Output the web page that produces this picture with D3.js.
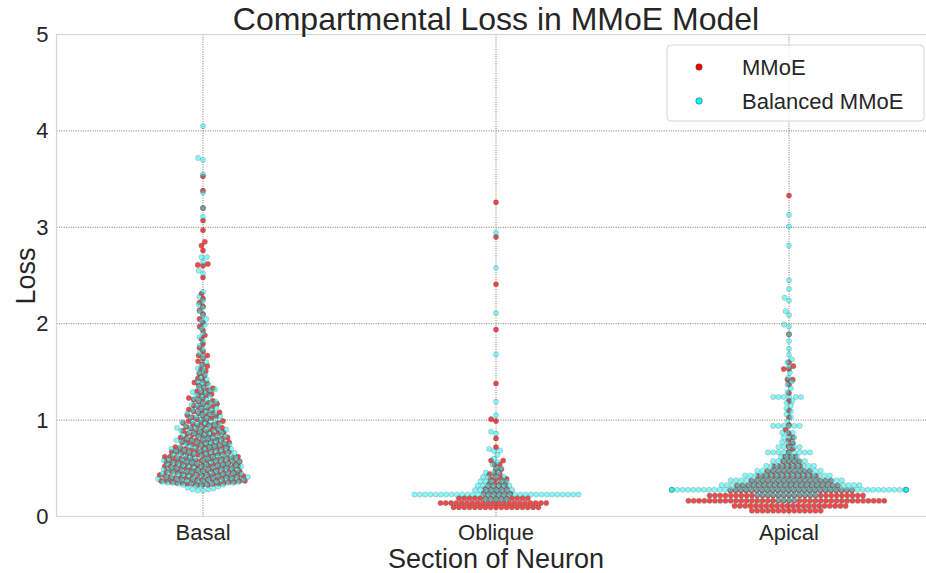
<!DOCTYPE html>
<html>
<head>
<meta charset="utf-8">
<script src="https://cdn.jsdelivr.net/npm/d3@7"></script>
<style>
  body { margin: 0; background: #fff; }
  svg { display: block; }
  text { font-family: "Liberation Sans", Arial, sans-serif; fill: #262626; }
</style>
</head>
<body>
<svg id="chart" width="926" height="573"></svg>
<script>
// ---- data -------------------------------------------------------------
const categories = ["Basal", "Oblique", "Apical"];
const seriesNames = ["MMoE", "Balanced MMoE"];
const yTicks = [0, 1, 2, 3, 4, 5];

const basalMMoE = [
  .33,.33,.33,.34,.34,.34,.34,.35,.35,.35,.36,.36,.36,.37,.37,.37,.37,.38,.38,.38,.39,.39,.39,.40,.40,.40,.40,
  .41,.41,.41,.42,.42,.42,.43,.43,.43,.43,.44,.44,.44,
  .45,.45,.45,.46,.46,.46,.47,.47,.47,.48,.48,.48,.49,.49,.49,.50,.50,.50,.51,.51,.51,.52,.52,.52,.53,.53,.53,
  .54,.54,.54,.55,.55,.55,.56,.56,.56,.57,.57,.57,.58,.58,.58,.59,.59,.59,.60,.60,.60,.61,.61,.61,
  .62,.62,.62,.63,.63,.64,.64,.64,.65,.65,.66,.66,.67,.67,.67,.68,.68,.69,.69,.69,.70,.70,.71,.71,
  .72,.72,.73,.73,.74,.74,.75,.75,.76,.76,.77,.77,.78,.78,.79,.79,.80,.80,.81,.81,
  .82,.82,.83,.83,.84,.85,.85,.86,.86,.87,.88,.88,.89,.89,.90,.91,.91,
  .92,.93,.93,.94,.95,.95,.96,.97,.97,.98,.99,.99,1.00,1.01,
  1.02,1.03,1.04,1.04,1.05,1.06,1.07,1.08,1.08,1.09,1.10,1.11,
  1.12,1.13,1.14,1.15,1.16,1.17,1.18,1.19,1.20,1.21,
  1.22,1.23,1.25,1.26,1.27,1.29,1.30,1.31,
  1.33,1.34,1.36,1.38,1.39,1.41,
  1.43,1.46,1.48,1.51,1.53,1.56,1.58,1.61,
  1.64,1.67,1.67,1.71,1.75,1.79,1.84,1.88,1.93,1.97,2.01,2.05,2.10,2.14,2.18,2.22,2.26,2.31,
  2.48,2.60,2.61,2.62,2.76,2.81,2.85,2.97,3.07,3.20,3.38,3.53
];
const basalBalanced = [
  .27,.27,.28,.28,.29,.30,.31,.32,.32,.33,.33,.33,.34,.34,.34,.35,.35,.35,.35,.36,.36,.36,.37,.37,.37,
  .38,.38,.38,.38,.39,.39,.39,.40,.40,.40,.41,.41,.41,.41,.42,.42,.42,.43,.43,.43,.44,.44,.44,.44,
  .45,.45,.45,.46,.46,.46,.47,.47,.47,.48,.48,.48,.49,.49,.49,.50,.50,.50,.51,.51,.51,.52,.52,.52,.53,.53,.53,
  .54,.54,.54,.55,.55,.55,.56,.56,.56,.57,.57,.57,.58,.58,.58,.59,.59,.59,.60,.60,.60,.61,.61,.61,
  .62,.62,.63,.63,.63,.64,.64,.65,.65,.65,.66,.66,.67,.67,.68,.68,.68,.69,.69,.70,.70,.70,.71,.71,
  .72,.72,.73,.73,.74,.74,.75,.75,.76,.76,.77,.77,.78,.78,.79,.79,.80,.80,.81,.81,
  .82,.83,.83,.84,.84,.85,.86,.86,.87,.87,.88,.89,.89,.90,.90,.91,.91,
  .92,.92,.93,.94,.94,.95,.96,.96,.97,.98,.98,.99,1.00,1.01,
  1.02,1.03,1.03,1.04,1.05,1.06,1.07,1.07,1.08,1.09,1.10,1.11,
  1.12,1.13,1.14,1.15,1.16,1.17,1.18,1.19,1.20,1.21,
  1.22,1.24,1.25,1.26,1.28,1.29,1.30,1.31,
  1.32,1.34,1.35,1.37,1.39,1.40,
  1.42,1.44,1.47,1.49,1.52,1.54,1.57,1.60,
  1.65,1.69,1.73,1.77,1.82,1.86,1.90,1.95,1.99,2.03,2.05,2.09,2.13,2.17,2.20,2.24,2.28,2.33,
  2.52,2.55,2.64,2.69,2.69,3.11,3.20,3.36,3.55,3.70,3.72,4.05
];

const obliqueMMoE = [
  .095,.095,.095,.095,.095,.095,.095,.095,.095,.095,.095,.095,.095,.095,.095,.095,.095,
  .14,.14,.14,.14,.14,.14,.14,.14,.14,.14,.14,.14,.14,.14,.14,.14,.14,.14,.14,.14,.14,
  .19,.19,.19,.19,.19,.19,.19,.19,.19,.19,.19,.19,.19,.19,
  .24,.24,.24,.24,.24,.24,
  .29,.29,.29,.29,.29,
  .34,.34,.34,.34,
  .39,.39,.39,.39,
  .44,.44,.44,
  .49,.49,
  .54,.54,.58,.58,
  .72,.81,.99,1.01,1.38,1.94,2.41,2.90,3.26
];
const obliqueBalanced = [
  .18,.18,.18,.18,.18,
  .228,.228,.228,.228,.228,.228,.228,.228,.228,.228,.228,.228,.228,.228,.228,.228,
  .228,.228,.228,.228,.228,.228,.228,.228,.228,.228,.228,.228,.228,.228,.228,.228,
  .275,.275,.275,.275,.275,.275,.275,.275,
  .32,.32,.32,.32,.32,.32,.32,
  .365,.365,.365,.365,.365,
  .41,.41,.41,.41,
  .455,.455,.455,
  .50,.50,
  .54,.56,.60,.64,.68,.685,.70,.86,.88,1.05,1.19,1.68,2.11,2.58,2.94
];

const apicalMMoE = [
  .06,.06,.06,.06,.06,.06,.06,.06,.06,.06,.06,.06,.06,.06,
  .11,.11,.11,.11,.11,.11,.11,.11,.11,.11,.11,.11,.11,.11,.11,.11,.11,.11,.11,.11,.11,.11,
  .163,.163,.163,.163,.163,.163,.163,.163,.163,.163,.163,.163,.163,.163,.163,.163,.163,.163,.163,
  .163,.163,.163,.163,.163,.163,.163,.163,.163,.163,.163,.163,.163,.163,.163,.163,.163,.163,.163,
  .218,.218,.218,.218,.218,.218,.218,.218,.218,.218,.218,.218,.218,.218,.218,
  .218,.218,.218,.218,.218,.218,.218,.218,.218,.218,.218,.218,.218,.218,.218,
  .27,.27,.27,.27,.27,.27,.27,.27,.27,.27,.27,.27,.27,.27,.27,.27,.27,.27,.27,.27,.27,.27,.27,.27,
  .32,.32,.32,.32,.32,.32,.32,.32,.32,.32,.32,.32,.32,.32,.32,.32,.32,.32,.32,.32,
  .37,.37,.37,.37,.37,.37,.37,.37,.37,.37,.37,.37,.37,.37,.37,.37,
  .42,.42,.42,.42,.42,.42,.42,.42,.42,.42,.42,.42,
  .47,.47,.47,.47,.47,.47,.47,.47,.47,
  .52,.52,.52,.52,.52,.52,
  .57,.57,.57,.57,
  .62,.62,.62,
  .67,.70,.73,.76,.79,.82,.86,.90,.95,1.03,1.10,1.20,1.28,1.37,1.42,1.42,1.53,1.53,1.56,1.60,1.89,3.33
];
const apicalBalanced = [
  .17,.17,.17,.17,
  .225,.225,.225,.225,.225,.225,.225,.225,.225,.225,.225,.225,
  .277,.277,.277,.277,.277,.277,.277,.277,.277,.277,.277,.277,.277,.277,.277,.277,.277,.277,.277,.277,.277,.277,.277,.277,.277,
  .277,.277,.277,.277,.277,.277,.277,.277,.277,.277,.277,.277,.277,.277,.277,.277,.277,.277,.277,.277,.277,.277,.277,.277,.277,
  .325,.325,.325,.325,.325,.325,.325,.325,.325,.325,.325,.325,.325,.325,.325,.325,.325,.325,.325,.325,.325,.325,.325,.325,.325,.325,.325,
  .375,.375,.375,.375,.375,.375,.375,.375,.375,.375,.375,.375,.375,.375,.375,.375,.375,.375,.375,.375,.375,.375,
  .425,.425,.425,.425,.425,.425,.425,.425,.425,.425,.425,.425,.425,.425,.425,.425,.425,
  .475,.475,.475,.475,.475,.475,.475,.475,.475,.475,.475,.475,.475,
  .525,.525,.525,.525,.525,.525,.525,.525,.525,.525,
  .575,.575,.575,.575,.575,.575,.575,
  .62,.62,.62,.62,
  .665,.665,.665,.665,.665,.665,.665,.665,.665,
  .72,.72,.72,.72,.72,.77,.77,.77,.82,.82,.82,.87,.87,.87,
  .94,.94,.94,.94,.94,.94,.99,1.03,1.06,1.09,1.12,1.15,1.18,1.20,
  1.24,1.24,1.24,1.24,1.24,1.24,1.29,1.33,1.37,1.40,1.44,1.49,1.55,1.60,1.63,1.68,1.74,1.82,1.89,
  1.97,1.99,2.09,2.13,2.24,2.27,2.36,2.45,2.81,3.01,3.13
];

const seriesValues = [
  [basalMMoE, obliqueMMoE, apicalMMoE],
  [basalBalanced, obliqueBalanced, apicalBalanced]
];
const seriesColors = ["#ff0000", "#00ffff"];
const seriesOpacity = [0.72, 0.5];

// ---- layout -----------------------------------------------------------
const W = 926, H = 573;
const margin = { left: 56.5, top: 34.5, right: 935.5, bottom: 516.5 };
const svg = d3.select("#chart");

const x = d3.scaleBand().domain(categories).range([margin.left, margin.right]).padding(0);
const y = d3.scaleLinear().domain([0, 5]).range([margin.bottom, margin.top]);
const cx = c => x(c) + x.bandwidth() / 2;

// dotted grid
const grid = svg.append("g")
  .attr("stroke", "#3c3c3c").attr("stroke-width", 0.7).attr("stroke-dasharray", "1,1.4");
grid.selectAll("line.h").data(yTicks.filter(t => t > 0 && t < 5)).join("line")
  .attr("x1", margin.left).attr("x2", margin.right)
  .attr("y1", d => y(d)).attr("y2", d => y(d));
grid.selectAll("line.v").data(categories).join("line")
  .attr("x1", d => cx(d)).attr("x2", d => cx(d))
  .attr("y1", margin.top).attr("y2", margin.bottom);

// frame
svg.append("rect")
  .attr("x", margin.left).attr("y", margin.top)
  .attr("width", margin.right - margin.left).attr("height", margin.bottom - margin.top)
  .attr("fill", "none").attr("stroke", "#d6d6d6").attr("stroke-width", 1.2);

// beeswarm placement in pixel space (ascending value order)
function swarm(values, center, r, halfWidth) {
  const ys = values.map(v => y(v));
  const order = d3.range(ys.length).sort((a, b) => ys[b] - ys[a]);
  const placed = [];
  const xs = new Array(ys.length);
  const d2 = 4 * r * r;
  for (const i of order) {
    const yi = ys[i];
    const nb = [];
    for (let k = placed.length - 1; k >= 0; k--) {
      if (placed[k].y - yi < 2 * r) nb.push(placed[k]); else break;
    }
    const cands = [center];
    for (const p of nb) {
      const dy = yi - p.y;
      cands.push(p.x - Math.sqrt(Math.max(d2 - dy * dy, 0)) * 1.05);
    }
    for (const p of nb) {
      const dy = yi - p.y;
      cands.push(p.x + Math.sqrt(Math.max(d2 - dy * dy, 0)) * 1.05);
    }
    const sorted = cands.map((c, j) => [c, j])
      .sort((a, b) => (Math.abs(a[0] - center) - Math.abs(b[0] - center)) || (a[1] - b[1]));
    let xi = center;
    for (const [c] of sorted) {
      let ok = true;
      for (const p of nb) {
        const ddx = p.x - c, ddy = p.y - yi;
        if (ddx * ddx + ddy * ddy < d2 - 1e-9) { ok = false; break; }
      }
      if (ok) { xi = c; break; }
    }
    placed.push({ x: xi, y: yi });
    xs[i] = Math.max(center - halfWidth, Math.min(center + halfWidth, xi));
  }
  return values.map((v, i) => ({ x: xs[i], y: ys[i] }));
}

const R = 2.52;
const half = x.bandwidth() * 0.4;
svg.append("clipPath").attr("id", "plotclip").append("rect")
  .attr("x", 0).attr("y", 0).attr("width", W).attr("height", margin.bottom);

seriesValues.forEach((cats, s) => {
  const g = svg.append("g").attr("clip-path", "url(#plotclip)");
  cats.forEach((vals, ci) => {
    const pts = swarm(vals, cx(categories[ci]), R, half);
    g.selectAll(null).data(pts).join("circle")
      .attr("cx", d => d.x).attr("cy", d => d.y).attr("r", 2.55)
      .attr("fill", seriesColors[s])
      .attr("stroke", "#3a3a3a").attr("stroke-width", 0.5)
      .attr("opacity", seriesOpacity[s]);
  });
});

// axes
const yAxis = svg.append("g").attr("transform", `translate(${margin.left},0)`)
  .call(d3.axisLeft(y).tickValues(yTicks).tickSize(0).tickPadding(8).tickFormat(d3.format("d")));
yAxis.select(".domain").remove();
yAxis.selectAll("text").attr("font-size", 22).style("fill", "#262626");

const xAxis = svg.append("g").attr("transform", `translate(0,${margin.bottom})`)
  .call(d3.axisBottom(x).tickSize(0).tickPadding(8));
xAxis.select(".domain").remove();
xAxis.selectAll("text").attr("font-size", 22).style("fill", "#262626");

// labels
svg.append("text").attr("x", 496).attr("y", 30).attr("text-anchor", "middle")
  .attr("font-size", 32).text("Compartmental Loss in MMoE Model");
svg.append("text").attr("x", 496).attr("y", 568).attr("text-anchor", "middle")
  .attr("font-size", 27).text("Section of Neuron");
svg.append("text").attr("transform", "translate(35,276) rotate(-90)").attr("text-anchor", "middle")
  .attr("font-size", 27).text("Loss");

// legend
const lg = svg.append("g");
lg.append("rect").attr("x", 667).attr("y", 45).attr("width", 257).attr("height", 76).attr("rx", 4)
  .attr("fill", "#fff").attr("fill-opacity", 0.85).attr("stroke", "#d6d6d6").attr("stroke-width", 1);
seriesNames.forEach((n, i) => {
  lg.append("circle").attr("cx", 699).attr("cy", 67 + i * 34).attr("r", 3.2)
    .attr("fill", seriesColors[i]).attr("stroke", "#333").attr("stroke-width", 0.5);
  lg.append("text").attr("x", 742).attr("y", 75 + i * 34).attr("font-size", 22).text(n);
});
</script>
</body>
</html>
